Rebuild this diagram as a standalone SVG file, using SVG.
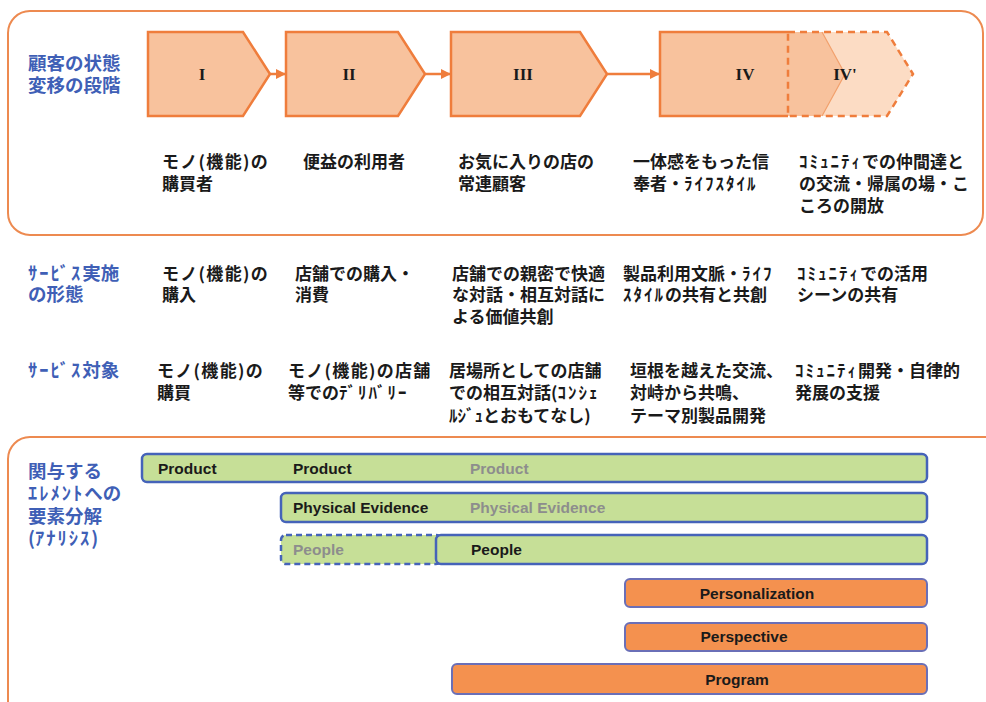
<svg xmlns="http://www.w3.org/2000/svg" width="986" height="702" viewBox="0 0 986 702">
<style>
.frame{fill:#ffffff;stroke:#ed8a50;stroke-width:2}
.pent{fill:#f8c29d;stroke:#ef7d3c;stroke-width:2.5}
.rn{font-family:"Liberation Serif",serif;font-weight:bold;font-size:17px;fill:#1a1a1a;text-anchor:middle}
.jp{font-family:"Noto Sans CJK JP",sans-serif;font-weight:bold;font-size:17px;fill:#1a1a1a}
.lbl{font-family:"Noto Sans CJK JP",sans-serif;font-weight:bold;font-size:18.5px;fill:#3f5fb6}
.hw{letter-spacing:2px}
.ls{letter-spacing:1.3px}
.conn{stroke:#ef7d3c;stroke-width:2.5;fill:none}
.gbar{fill:#c6df97;stroke:#4563b9;stroke-width:2.5}
.obar{fill:#f4914f;stroke:#6a6fb7;stroke-width:2}
.en{font-family:"Liberation Sans",Arial,sans-serif;font-weight:bold;font-size:15.5px;fill:#1a1a1a}
.grey{fill:#8d8d8d}
</style>
<defs>
<marker id="ah" viewBox="0 0 10 10" refX="9" refY="5" markerWidth="4" markerHeight="4" orient="auto" markerUnits="strokeWidth">
<path d="M0,0 L10,5 L0,10 z" fill="#ef7d3c"/>
</marker>
</defs>
<rect width="986" height="702" fill="#ffffff"/>

<g id="frame-top"><rect class="frame" x="8" y="11" width="975" height="224" rx="22"/></g>
<g id="frame-bottom"><rect class="frame" x="8" y="437" width="1010" height="300" rx="22"/></g>

<g id="connectors">
<line class="conn" x1="270" y1="74" x2="285" y2="74" marker-end="url(#ah)"/>
<line class="conn" x1="425" y1="74" x2="450" y2="74" marker-end="url(#ah)"/>
<line class="conn" x1="607" y1="74" x2="659" y2="74" marker-end="url(#ah)"/>
</g>

<g id="stage-1">
<polygon class="pent" points="148,32 243,32 270,74 243,116 148,116"/>
<text class="rn" x="202" y="80">I</text>
</g>
<g id="stage-2">
<polygon class="pent" points="286,32 398,32 425,74 398,116 286,116"/>
<text class="rn" x="349" y="80">II</text>
</g>
<g id="stage-3">
<polygon class="pent" points="451,32 580,32 607,74 580,116 451,116"/>
<text class="rn" x="523" y="80">III</text>
</g>
<g id="stage-4dash">
<polygon points="788,32 887,32 913,74 887,116 788,116" fill="#fcdcc4" stroke="none"/>
</g>
<g id="stage-4">
<polygon points="660,32 822,32 845,74 822,116 660,116" fill="#f8c29d" stroke="none"/>
<polyline points="822,32 845,74 822,116" fill="none" stroke="#f2a06c" stroke-width="1.2"/>
<polyline points="788,32 660,32 660,116 788,116" fill="none" stroke="#ef7d3c" stroke-width="2.5"/>
<polygon points="788,32 887,32 913,74 887,116 788,116" fill="none" stroke="#ef7d3c" stroke-width="2.5" stroke-dasharray="7,5"/>
<text class="rn" x="745" y="80">IV</text>
<text class="rn" x="845" y="80">IV'</text>
</g>

<g id="label-stage"><text class="lbl" x="28" y="70">顧客の状態<tspan x="28" dy="22">変移の段階</tspan></text></g>
<g id="label-form"><text class="lbl" x="28" y="280"><tspan class="hw">ｻｰﾋﾞｽ</tspan>実施<tspan x="28" dy="21">の形態</tspan></text></g>
<g id="label-target"><text class="lbl" x="28" y="377"><tspan class="hw">ｻｰﾋﾞｽ</tspan>対象</text></g>
<g id="label-elements"><text class="lbl" x="28" y="478">関与する<tspan x="28" dy="22"><tspan class="hw">ｴﾚﾒﾝﾄ</tspan>への</tspan><tspan x="28" dy="23">要素分解</tspan><tspan x="28" dy="22">(<tspan class="hw">ｱﾅﾘｼｽ</tspan>)</tspan></text></g>

<g id="row1">
<text class="jp" x="162" y="168"><tspan class="ls">モノ(機能)の</tspan><tspan x="162" dy="22">購買者</tspan></text>
<text class="jp" x="303" y="168">便益の利用者</text>
<text class="jp" x="458" y="168">お気に入りの店の<tspan x="458" dy="22">常連顧客</tspan></text>
<text class="jp" x="633" y="168">一体感をもった信<tspan x="633" dy="22">奉者・<tspan class="hw">ﾗｲﾌｽﾀｲﾙ</tspan></tspan></text>
<text class="jp" x="799" y="168"><tspan class="hw">ｺﾐｭﾆﾃｨ</tspan>での仲間達と<tspan x="799" dy="22">の交流・帰属の場・こ</tspan><tspan x="799" dy="22">ころの開放</tspan></text>
</g>

<g id="row2">
<text class="jp" x="162" y="280"><tspan class="ls">モノ(機能)の</tspan><tspan x="162" dy="21">購入</tspan></text>
<text class="jp" x="295" y="280">店舗での購入・<tspan x="295" dy="21">消費</tspan></text>
<text class="jp" x="452" y="280">店舗での親密で快適<tspan x="452" dy="21">な対話・相互対話に</tspan><tspan x="452" dy="22">よる価値共創</tspan></text>
<text class="jp" x="623" y="280">製品利用文脈・<tspan class="hw">ﾗｲﾌ</tspan><tspan x="623" dy="21"><tspan class="hw">ｽﾀｲﾙ</tspan>の共有と共創</tspan></text>
<text class="jp" x="797" y="280"><tspan class="hw">ｺﾐｭﾆﾃｨ</tspan>での活用<tspan x="797" dy="21">シーンの共有</tspan></text>
</g>

<g id="row3">
<text class="jp" x="157" y="377"><tspan class="ls">モノ(機能)の</tspan><tspan x="157" dy="22">購買</tspan></text>
<text class="jp" x="288" y="377"><tspan class="ls">モノ(機能)の店舗</tspan><tspan x="288" dy="22">等での<tspan class="hw">ﾃﾞﾘﾊﾞﾘｰ</tspan></tspan></text>
<text class="jp" x="449" y="377">居場所としての店舗<tspan x="449" dy="22">での相互対話(<tspan class="hw">ｺﾝｼｪ</tspan></tspan><tspan x="449" dy="23">ﾙｼﾞｭとおもてなし)</tspan></text>
<text class="jp" x="630" y="377">垣根を越えた交流、<tspan x="630" dy="22">対峙から共鳴、</tspan><tspan x="630" dy="23">テーマ別製品開発</tspan></text>
<text class="jp" x="795" y="377"><tspan class="hw">ｺﾐｭﾆﾃｨ</tspan>開発・自律的<tspan x="795" dy="22">発展の支援</tspan></text>
</g>

<g id="bar-product">
<rect class="gbar" x="142" y="454" width="785" height="28" rx="5"/>
<text class="en" x="158" y="474">Product</text>
<text class="en" x="293" y="474">Product</text>
<text class="en grey" x="470" y="474">Product</text>
</g>
<g id="bar-physical">
<rect class="gbar" x="281" y="493" width="646" height="29" rx="5"/>
<text class="en" x="293" y="513">Physical Evidence</text>
<text class="en grey" x="470" y="513">Physical Evidence</text>
</g>
<g id="bar-people-dash">
<rect x="281" y="535" width="160" height="29" rx="5" fill="#c6df97" stroke="#4563b9" stroke-width="2.5" stroke-dasharray="6,4"/>
<text class="en grey" x="293" y="555">People</text>
</g>
<g id="bar-people">
<rect class="gbar" x="436" y="535" width="491" height="29" rx="5"/>
<text class="en" x="471" y="555">People</text>
</g>
<g id="bar-personalization">
<rect class="obar" x="625" y="579" width="302" height="28" rx="5"/>
<text class="en" x="757" y="599" text-anchor="middle">Personalization</text>
</g>
<g id="bar-perspective">
<rect class="obar" x="625" y="623" width="302" height="28" rx="5"/>
<text class="en" x="744" y="642" text-anchor="middle">Perspective</text>
</g>
<g id="bar-program">
<rect class="obar" x="452" y="664" width="475" height="30" rx="5"/>
<text class="en" x="737" y="685" text-anchor="middle">Program</text>
</g>
</svg>
